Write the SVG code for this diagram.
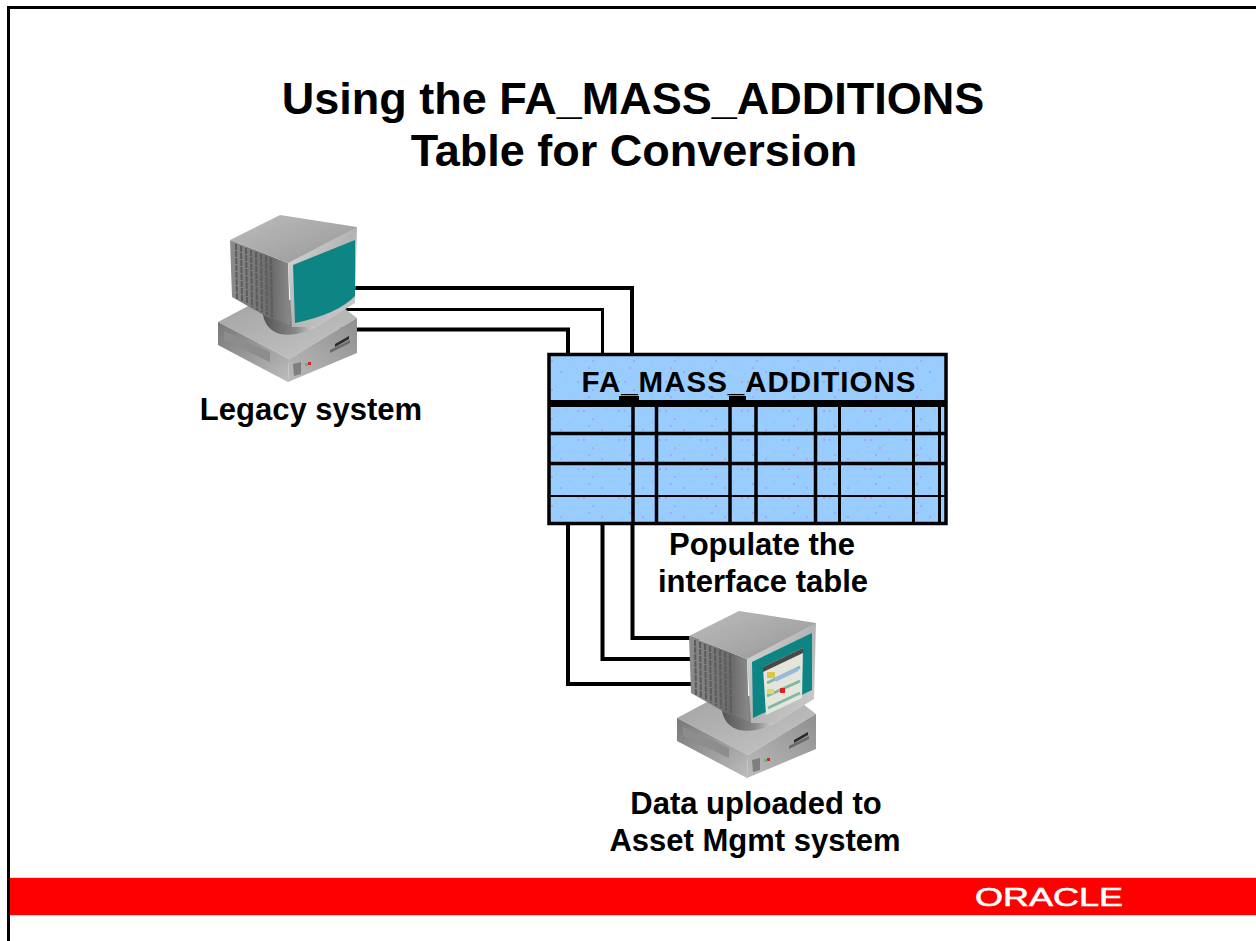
<svg xmlns="http://www.w3.org/2000/svg" width="1256" height="941" viewBox="0 0 1256 941">
<defs>
<linearGradient id="top" x1="0" y1="0" x2="1" y2="1"><stop offset="0" stop-color="#bcbcbc"/><stop offset=".6" stop-color="#a6a6a6"/><stop offset="1" stop-color="#8e8e8e"/></linearGradient>
<linearGradient id="side" x1="0" y1="0" x2="1" y2="0"><stop offset="0" stop-color="#8c8c8c"/><stop offset=".7" stop-color="#6a6a6a"/><stop offset="1" stop-color="#8a8a8a"/></linearGradient>
<linearGradient id="bez" x1="0" y1="0" x2="1" y2="1"><stop offset="0" stop-color="#dedede"/><stop offset=".5" stop-color="#b4b4b4"/><stop offset="1" stop-color="#cfcfcf"/></linearGradient>
<linearGradient id="bl" x1="0" y1="0" x2="1" y2="1"><stop offset="0" stop-color="#777"/><stop offset="1" stop-color="#bdbdbd"/></linearGradient>
<linearGradient id="br" x1="0" y1="1" x2="1" y2="0"><stop offset="0" stop-color="#bababa"/><stop offset="1" stop-color="#8f8f8f"/></linearGradient>
<linearGradient id="bt" x1="0" y1="0" x2="1" y2="1"><stop offset="0" stop-color="#a4a4a4"/><stop offset="1" stop-color="#c6c6c6"/></linearGradient>
<linearGradient id="neck" x1="0" y1="0" x2="1" y2="0"><stop offset="0" stop-color="#555"/><stop offset=".6" stop-color="#888"/><stop offset="1" stop-color="#ddd"/></linearGradient>
<pattern id="dots" width="41" height="29" patternUnits="userSpaceOnUse"><rect width="41" height="29" fill="#99ccff"/><rect x="3" y="4" width="2" height="2" fill="#a9a8ee"/><rect x="9" y="4" width="2" height="2" fill="#a9a8ee"/><rect x="22" y="9" width="2" height="2" fill="#8fd0d8"/><rect x="32" y="2" width="2" height="2" fill="#8fd0d8"/><rect x="14" y="19" width="2" height="2" fill="#a9a8ee"/><rect x="27" y="23" width="2" height="2" fill="#a9a8ee"/><rect x="36" y="16" width="2" height="2" fill="#8fd0d8"/><rect x="6" y="25" width="2" height="2" fill="#8fd0d8"/><rect x="18" y="12" width="2" height="2" fill="#a9a8ee"/></pattern>
<filter id="soft" x="-5%" y="-5%" width="110%" height="110%"><feGaussianBlur stdDeviation="0.7"/></filter>
<g id="pc">
<path d="M218 322L250 305L340 305L357 318L289 359Z" fill="url(#bt)"/>
<path d="M218 322L289 359L288 382L218 345Z" fill="url(#bl)"/>
<path d="M289 359L357 318V353L288 382Z" fill="url(#br)"/>
<path d="M224 331L270 352V362L224 340Z" fill="#8d8d8d"/>
<path d="M263 315Q266 330 280 334Q300 337 318 326L300 300L265 300Z" fill="url(#neck)"/>
<path d="M230 240L288 263L290 325L267 317L232 297Z" fill="url(#side)"/>
<path d="M236 244L237 299M241 246L242 302M246 248L247 304M251 250L252 307M256 252L257 310M261 254L262 312M266 256L267 315M271 258L272 317" stroke="#5c5c5c" stroke-width="2" stroke-dasharray="6 1"/>
<path d="M230 240L280 215L357 227L355 238L292 266L288 263Z" fill="url(#top)"/>
<path d="M288 263L357 227L355 303L317 327L292 327Z" fill="url(#bez)"/>
<path d="M335 344L349 336V339L335 347Z" fill="#2a2a2a"/>
<path d="M330 350L350 340V343L330 353Z" fill="#6a6a6a"/>
<path d="M293 364L301 362V374L294 376Z" fill="#7f7f7f"/>
<rect x="305" y="363" width="3" height="3" fill="#5fbf5f"/>
<rect x="308" y="362" width="3" height="3" fill="#d02828"/>
</g>
</defs>
<style>
.t{font-family:"Liberation Sans",Arial,sans-serif;font-weight:700;fill:#000;text-anchor:middle}
.h{font-size:45px}
.l{font-size:31px}
.w{fill:none;stroke:#000;stroke-width:4}
.rule{fill:none;stroke:#000;stroke-width:3.5}
</style>
<rect width="1256" height="941" fill="#fff"/>
<g id="frame"><path d="M8.5 941V7.5H1256" fill="none" stroke="#000" stroke-width="3"/></g>
<g id="title">
<text class="t h" x="633" y="114">Using the FA_MASS_ADDITIONS</text>
<text class="t h" x="634" y="166">Table for Conversion</text>
</g>
<g id="connectors">
<path class="w" d="M340 288H632V354"/>
<path class="w" d="M340 309.500H602.500V354" style="stroke-width:3"/>
<path class="w" d="M340 329.500H568V354"/>
<path class="w" d="M568 524V684H700"/>
<path class="w" d="M602.500 524V659H700"/>
<path class="w" d="M632.500 524V638H700"/>
</g>
<g id="legacy-system">
<g filter="url(#soft)">
<use href="#pc"/>
<path d="M293 265L355 240V296Q338 314 295 323Z" fill="#0e8585"/>
</g>
<text class="t l" x="311" y="420">Legacy system</text>
</g>
<g id="fa-mass-additions">
<rect x="549" y="354.500" width="397" height="169" fill="url(#dots)" stroke="#000" stroke-width="3.500"/>
<rect x="549" y="400" width="397" height="7" fill="#000"/>
<rect x="619" y="396" width="20" height="5" fill="#000"/>
<rect x="729" y="396" width="17" height="5" fill="#000"/>
<path class="rule" d="M549 433.500H946M549 463.500H946"/>
<path class="rule" style="stroke-width:2" d="M549 496H946"/>
<path class="rule" d="M633 405V523M656.500 405V523M730 405V523M756 405V523M815.500 405V523"/>
<path class="rule" style="stroke-width:3" d="M839.500 405V523M913.500 405V523M939.500 405V523"/>
<text class="t" x="748.500" y="392" font-size="29.500" textLength="334" lengthAdjust="spacing">FA_MASS_ADDITIONS</text>
</g>
<g id="populate-label">
<text class="t l" x="762" y="555">Populate the</text>
<text class="t l" x="763" y="592">interface table</text>
</g>
<g id="asset-system">
<g filter="url(#soft)">
<use href="#pc" x="459" y="396"/>
<path d="M752 662L812 633V690L753 718Z" fill="#0e8585"/>
<path d="M763 667L803 648L802 698L766 715Z" fill="#e4e6dc"/>
<path d="M763 667L803 648V653L763 672Z" fill="#4a4a4a"/>
<path d="M767 683L800 667M767 696L800 681M768 708L800 693" stroke="#7fb7a0" stroke-width="3"/>
<path d="M775 680L798 669" stroke="#9db8e0" stroke-width="4"/>
<rect x="767" y="672" width="8" height="6" fill="#d8c848"/>
<rect x="780" y="688" width="5" height="5" fill="#d82020"/>
<rect x="767" y="689" width="7" height="5" fill="#e0d860"/>
</g>
<text class="t l" x="756" y="814">Data uploaded to</text>
<text class="t l" x="755" y="851">Asset Mgmt system</text>
</g>
<g id="footer">
<rect x="10" y="877.500" width="1246" height="38" fill="#ffb0b0"/>
<rect x="10" y="878" width="1246" height="37" fill="#f00"/>
<text x="1049" y="906" font-family="Liberation Sans, Arial, sans-serif" font-size="25" fill="#fff" stroke="#fff" stroke-width="0.6" text-anchor="middle" textLength="148" lengthAdjust="spacingAndGlyphs">ORACLE</text>
</g>
</svg>
